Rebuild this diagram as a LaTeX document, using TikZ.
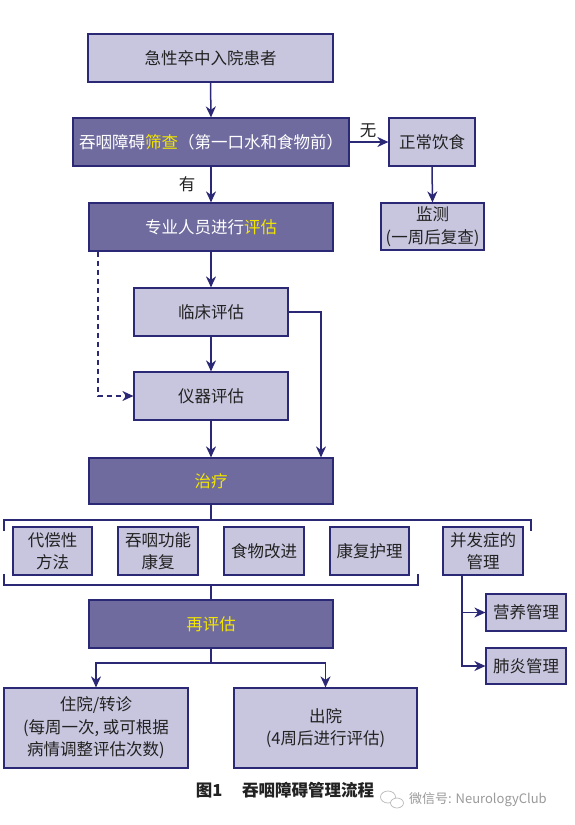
\documentclass[tikz,border=0pt]{standalone}
\usepackage{fontspec}
\setmainfont{Noto Sans CJK SC}
\usetikzlibrary{arrows.meta}
\definecolor{navy}{HTML}{2B2875}
\definecolor{lightfill}{HTML}{C8C6DF}
\definecolor{darkfill}{HTML}{6F6B9F}
\definecolor{yel}{HTML}{F2E600}
\definecolor{txt}{HTML}{222222}
\definecolor{wm}{HTML}{9A9A9A}
\tikzset{
  box/.style={draw=navy, line width=1.2pt, inner sep=0pt, align=center, font=\fontsize{16.5}{22.5}\selectfont},
  lbox/.style={box, fill=lightfill, text=txt},
  dbox/.style={box, fill=darkfill, text=white},
  conn/.style={draw=navy, line width=1.5pt},
  arr/.style={conn, -{Stealth[length=11pt,width=10pt,inset=3.5pt]}},
  lab/.style={font=\fontsize{16.5}{18}\selectfont, text=txt, inner sep=0pt}
}
\begin{document}
\begin{tikzpicture}[x=1pt,y=-1pt]
\useasboundingbox (0,0) rectangle (574,825);
\fill[white] (0,0) rectangle (574,825);
% nodes
\node[lbox, minimum width=245pt, minimum height=48pt] (adm) at (210.5,58) {急性卒中入院患者};
\node[dbox, minimum width=276pt, minimum height=48pt] (scr) at (211,142) {吞咽障碍\textcolor{yel}{筛查}（第一口水和食物前）};
\node[lbox, minimum width=86pt, minimum height=48pt] (norm) at (432,142) {正常饮食};
\node[lbox, minimum width=103pt, minimum height=47pt] (mon) at (432.5,226.5) {监测\\(一周后复查)};
\node[dbox, minimum width=244pt, minimum height=48pt] (prof) at (211,227) {专业人员进行\textcolor{yel}{评估}};
\node[lbox, minimum width=154pt, minimum height=48pt] (clin) at (211,312) {临床评估};
\node[lbox, minimum width=154pt, minimum height=48pt] (inst) at (211,396) {仪器评估};
\node[dbox, minimum width=244pt, minimum height=46pt, text=yel] (treat) at (211,481) {治疗};
\node[lbox, minimum width=79pt, minimum height=48pt] (t1) at (52.5,551) {代偿性\\方法};
\node[lbox, minimum width=80pt, minimum height=48pt] (t2) at (158,551) {吞咽功能\\康复};
\node[lbox, minimum width=80pt, minimum height=48pt] (t3) at (264,551) {食物改进};
\node[lbox, minimum width=79pt, minimum height=48pt] (t4) at (369.5,551) {康复护理};
\node[lbox, minimum width=80pt, minimum height=48pt] (t5) at (483,551) {并发症的\\管理};
\node[lbox, minimum width=80pt, minimum height=37pt] (nut) at (526,612.5) {营养管理};
\node[lbox, minimum width=80pt, minimum height=36pt] (pneu) at (526,666) {肺炎管理};
\node[dbox, minimum width=244pt, minimum height=48pt, text=yel] (reev) at (211,624) {再评估};
\node[lbox, minimum width=184pt, minimum height=80pt] (hosp) at (96,728) {住院/转诊\\(每周一次, 或可根据\\病情调整评估次数)};
\node[lbox, minimum width=183pt, minimum height=80pt] (disc) at (325.5,728) {出院\\(4周后进行评估)};
% labels
\node[lab] (you) at (187,184) {有};
\node[lab] (wu) at (368,131) {无};
% connectors
\draw[arr] (adm.south) -- (scr.north);
\draw[arr] (scr.south) -- (prof.north);
\draw[arr] (scr.east) -- (norm.west);
\draw[arr] (norm.south) -- (mon.north);
\draw[arr] (prof.south) -- (clin.north);
\draw[arr] (clin.south) -- (inst.north);
\draw[arr] (inst.south) -- (treat.north);
\coordinate (rc) at (321,0);
\draw[arr] (clin.east) -| (rc |- treat.north);
\coordinate (dl) at (98,0);
\draw[arr, dashed, dash pattern=on 5pt off 4pt] (dl |- prof.south) |- (inst.west);
% bracket top
\coordinate (bt) at (211,520);
\draw[conn] (treat.south) -- (bt);
\draw[conn, line width=1.3pt] (4,531) -- (4,520) -- (531,520) -- (531,531);
% bracket bottom
\coordinate (bb) at (211,585);
\draw[conn, line width=1.3pt] (4,574) -- (4,585) -- (418,585) -- (418,574);
\draw[conn] (bb) -- (reev.north);
% complications
\coordinate (cv) at (462,0);
\draw[arr] (cv |- t5.south) |- (nut.west);
\draw[arr] (cv |- t5.south) |- (pneu.west);
% split
\coordinate (sp) at (211,663);
\draw[conn] (reev.south) -- (sp);
\draw[arr] (sp) -| (hosp.north);
\draw[arr] (sp) -| (disc.north);
% caption
\node[font=\fontsize{16.5}{18}\selectfont\bfseries, text=txt, inner sep=0pt] (cap) at (285,790) {图1\hspace{1.2em}吞咽障碍管理流程};
% watermark
\node[font=\fontsize{13}{14}\selectfont, text=wm, inner sep=0pt, anchor=west] (wmk) at (409,800) {微信号: NeurologyClub};
\draw[wm!70, line width=0.7pt] (388,797) ellipse (7.5pt and 6pt);
\draw[wm!70, line width=0.7pt, fill=white] (397,803) ellipse (6.5pt and 5pt);
\end{tikzpicture}
\end{document}
